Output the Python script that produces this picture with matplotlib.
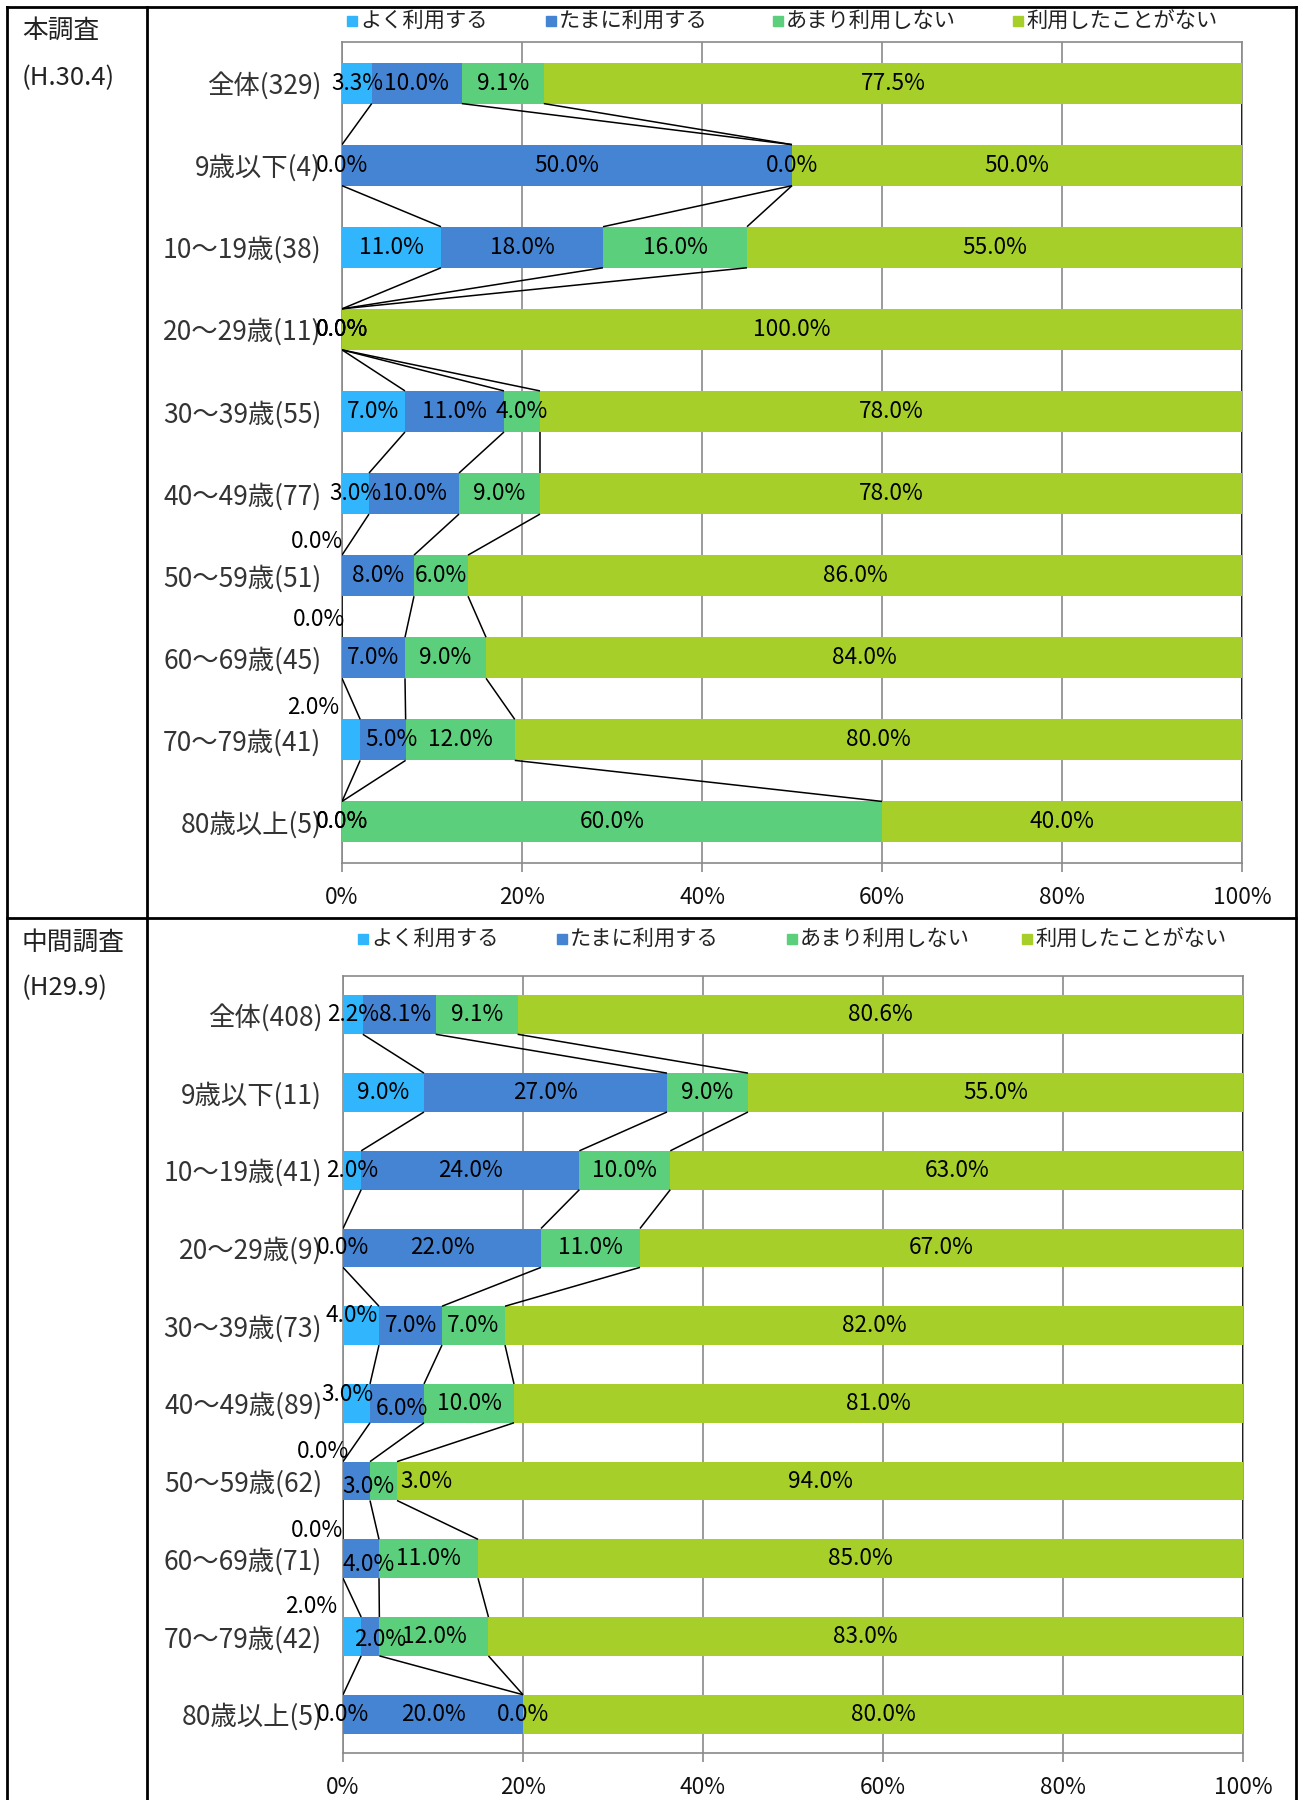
import numpy as np
import matplotlib
matplotlib.use("Agg")
import matplotlib.pyplot as plt
from matplotlib.patches import Rectangle
from matplotlib.lines import Line2D

plt.rcParams['font.family'] = ['Noto Sans CJK JP', 'DejaVu Sans']

# ---- data -------------------------------------------------------------
series_names = ["よく利用する", "たまに利用する", "あまり利用しない", "利用したことがない"]
series_colors = ["#31B5FD", "#4584D3", "#5BCF7B", "#A6CF2A"]

main_title = "本調査"
main_period = "(H.30.4)"
main_categories = ["全体(329)", "9歳以下(4)", "10〜19歳(38)", "20〜29歳(11)", "30〜39歳(55)",
                   "40〜49歳(77)", "50〜59歳(51)", "60〜69歳(45)", "70〜79歳(41)", "80歳以上(5)"]
main_often = [3.3, 0.0, 11.0, 0.0, 7.0, 3.0, 0.0, 0.0, 2.0, 0.0]
main_sometimes = [10.0, 50.0, 18.0, 0.0, 11.0, 10.0, 8.0, 7.0, 5.0, 0.0]
main_rarely = [9.1, 0.0, 16.0, 0.0, 4.0, 9.0, 6.0, 9.0, 12.0, 60.0]
main_never = [77.5, 50.0, 55.0, 100.0, 78.0, 78.0, 86.0, 84.0, 80.0, 40.0]

mid_title = "中間調査"
mid_period = "(H29.9)"
mid_categories = ["全体(408)", "9歳以下(11)", "10〜19歳(41)", "20〜29歳(9)", "30〜39歳(73)",
                  "40〜49歳(89)", "50〜59歳(62)", "60〜69歳(71)", "70〜79歳(42)", "80歳以上(5)"]
mid_often = [2.2, 9.0, 2.0, 0.0, 4.0, 3.0, 0.0, 0.0, 2.0, 0.0]
mid_sometimes = [8.1, 27.0, 24.0, 22.0, 7.0, 6.0, 3.0, 4.0, 2.0, 20.0]
mid_rarely = [9.1, 9.0, 10.0, 11.0, 7.0, 10.0, 3.0, 11.0, 12.0, 0.0]
mid_never = [80.6, 55.0, 63.0, 67.0, 82.0, 81.0, 94.0, 85.0, 83.0, 80.0]

x_ticks = [0, 20, 40, 60, 80, 100]
x_ticklabels = ["0%", "20%", "40%", "60%", "80%", "100%"]

# label nudges (dx in %, dy in category units) keyed by (row, series)
main_nudges = {(6, 0): (-2.8, -0.42), (7, 0): (-2.6, -0.46),
               (8, 0): (-4.2, -0.39), (8, 1): (0.9, 0.0)}
mid_nudges = {(0, 1): (0.6, 0.0),
              (4, 0): (-1.0, -0.13), (5, 0): (-1.0, -0.11), (5, 1): (0.5, 0.06),
              (6, 0): (-2.2, -0.38), (6, 1): (1.3, 0.07), (6, 2): (4.8, 0.0),
              (7, 0): (-2.9, -0.37), (7, 1): (0.8, 0.07),
              (8, 0): (-4.5, -0.38), (8, 1): (1.1, 0.04)}

W, H = 1306, 1800
fig = plt.figure(figsize=(W / 100, H / 100), dpi=100)

GRID = "#8A8A8A"
BAR_H = 0.5
FS = 16.3
CAT_FS = 19


def fx(px):
    return px / W


def fy(py):
    return 1 - py / H


def draw_panel(rect, categories, values, nudges):
    ax = fig.add_axes(rect)
    vals = np.array(values, dtype=float)  # shape (4, n)
    # 100% stacked: each row is scaled to its own total
    shares = vals / vals.sum(axis=0) * 100
    n = vals.shape[1]
    y = np.arange(n)
    lefts = np.zeros(n)
    cums = []
    for k in range(4):
        ax.barh(y, shares[k], left=lefts, height=BAR_H, color=series_colors[k],
                edgecolor="none", zorder=3)
        for i in range(n):
            dx, dy = nudges.get((i, k), (0.0, 0.0))
            ax.text(lefts[i] + shares[k][i] / 2 + dx, y[i] + dy, f"{vals[k][i]:.1f}%",
                    ha="center", va="center", fontsize=FS, color="black", zorder=6)
        lefts = lefts + shares[k]
        cums.append(lefts.copy())
    # series lines joining segment ends of neighbouring bars
    for k in range(4):
        c = cums[k]
        for i in range(n - 1):
            ax.plot([c[i], c[i + 1]], [y[i] + BAR_H / 2, y[i + 1] - BAR_H / 2],
                    color="black", lw=1.1, zorder=4, solid_capstyle="butt")
    ax.set_xlim(0, 100)
    ax.set_ylim(n - 0.5, -0.5)
    ax.set_yticks(y)
    ax.set_yticklabels(categories, fontsize=CAT_FS, color="#333333")
    ax.set_xticks(x_ticks)
    ax.set_xticklabels(x_ticklabels, fontsize=FS, color="#111111")
    ax.tick_params(axis="y", length=0, pad=15)
    ax.tick_params(axis="x", length=6.5, width=1.2, color=GRID, pad=10)
    ax.grid(axis="x", color=GRID, lw=1.2, zorder=0)
    ax.set_axisbelow(True)
    for s in ax.spines.values():
        s.set_color(GRID)
        s.set_linewidth(1.2)
    return ax


def draw_legend(xs, ypx):
    for name, color, xp in zip(series_names, series_colors, xs):
        fig.add_artist(Rectangle((fx(xp), fy(ypx + 5)), fx(10), 10 / H,
                                 transform=fig.transFigure, color=color))
        fig.text(fx(xp + 13), fy(ypx), name, fontsize=15.3, color="#222222",
                 ha="left", va="center")


draw_panel([fx(342), fy(863), fx(900), 821 / H], main_categories,
           [main_often, main_sometimes, main_rarely, main_never], main_nudges)
draw_panel([fx(343), fy(1753), fx(900), 777 / H], mid_categories,
           [mid_often, mid_sometimes, mid_rarely, mid_never], mid_nudges)

draw_legend([347, 546, 773, 1013], 21)
draw_legend([358, 557, 787, 1022], 939)

# side captions
fig.text(fx(22), fy(31), main_title, fontsize=18.5, color="#222222", ha="left", va="center")
fig.text(fx(22), fy(78), main_period, fontsize=18.5, color="#222222", ha="left", va="center")
fig.text(fx(22), fy(943), mid_title, fontsize=18.5, color="#222222", ha="left", va="center")
fig.text(fx(22), fy(988), mid_period, fontsize=18.5, color="#222222", ha="left", va="center")

# table frame
lw = 2.0
for (x0, y0, x1, y1) in [(7, 7, 1296, 7), (7, 7, 7, 1800), (1296, 7, 1296, 1800),
                         (147, 7, 147, 1800), (7, 918, 1296, 918)]:
    fig.add_artist(Line2D([fx(x0), fx(x1)], [fy(y0), fy(y1)], transform=fig.transFigure,
                          color="black", lw=lw))

fig.savefig("out.png", dpi=100)
